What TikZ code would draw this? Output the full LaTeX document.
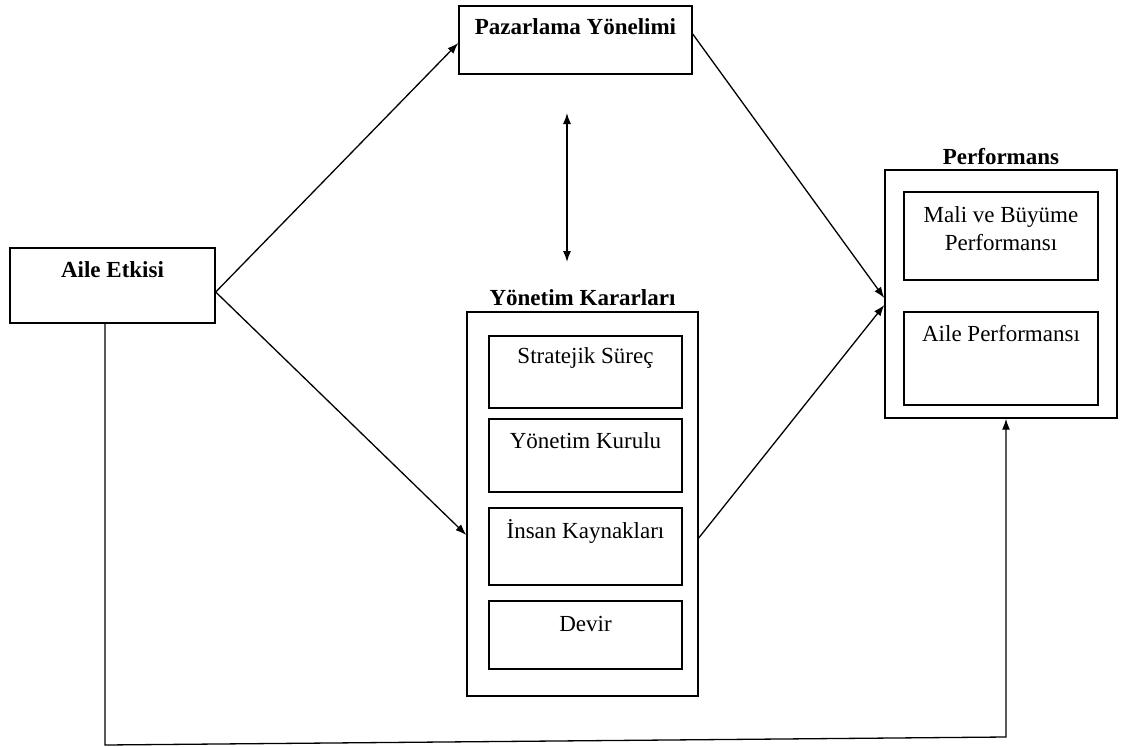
\documentclass[tikz,border=0pt]{standalone}
\usepackage{fontspec}
\setmainfont{Liberation Serif}
\usetikzlibrary{arrows.meta}
\begin{document}
\begin{tikzpicture}[x=1pt,y=-1pt,
  box/.style={draw, line width=1.4pt, rectangle, inner sep=0pt},
  txt/.style={font=\fontsize{23}{28}\selectfont, align=center, inner sep=0pt},
  ttl/.style={font=\fontsize{23}{28}\selectfont\bfseries, align=center, inner sep=0pt},
  conn/.style={line width=1.3pt},
  arr/.style={conn, -{Latex[length=11pt,width=8pt]}},
  darr/.style={conn, {Latex[length=11pt,width=8pt]}-{Latex[length=11pt,width=8pt]}}]
\useasboundingbox (0,0) rectangle (1122,747);

% left source box
\node[box, minimum width=205pt, minimum height=75pt] (aile) at (112.5,285.5) {};
\node[ttl] (ailet) at (112.5,270) {Aile Etkisi};

% top box
\node[box, minimum width=233pt, minimum height=68pt] (paz) at (575.5,40) {};
\node[ttl] (pazt) at (575.5,27) {Pazarlama Yönelimi};

% management decisions group
\node[ttl] (yont) at (582.5,298) {Yönetim Kararları};
\node[box, minimum width=231pt, minimum height=384pt] (yon) at (582.5,504) {};
\node[box, minimum width=193pt, minimum height=72pt] (s1) at (585.5,372) {};
\node[txt] (s1t) at (585.5,358) {Stratejik Süreç};
\node[box, minimum width=193pt, minimum height=73pt] (s2) at (585.5,455.5) {};
\node[txt] (s2t) at (585.5,441) {Yönetim Kurulu};
\node[box, minimum width=193pt, minimum height=77pt] (s3) at (585.5,546.5) {};
\node[txt] (s3t) at (585.5,531) {İnsan Kaynakları};
\node[box, minimum width=193pt, minimum height=68pt] (s4) at (585.5,635) {};
\node[txt] (s4t) at (585.5,624) {Devir};

% performance group
\node[ttl] (perft) at (1001,157) {Performans};
\node[box, minimum width=232pt, minimum height=248pt] (perf) at (1001,294) {};
\node[box, minimum width=194pt, minimum height=88pt] (p1) at (1001,236) {};
\node[txt] (p1t) at (1001,229) {Mali ve Büyüme\\Performansı};
\node[box, minimum width=194pt, minimum height=93pt] (p2) at (1001,358.5) {};
\node[txt] (p2t) at (1001,334) {Aile Performansı};

% connectors (yshift acts on the page: negative moves down)
\draw[arr] ([yshift=-6.5pt]aile.east) -- ([yshift=-3pt]paz.west);
\draw[arr] ([yshift=-6.5pt]aile.east) -- ([yshift=-31pt]yon.west);
\draw[arr] ([yshift=6pt]paz.east) -- ([yshift=-4pt]perf.west);
\draw[arr] ([yshift=-34pt]yon.east) -- ([yshift=-11pt]perf.west);

\coordinate (da1) at (567,113);
\coordinate (da2) at (567,262);
\draw[darr] (da1) -- (da2);

\coordinate (bl) at (105,745);
\coordinate (br) at (1006,737);
\draw[arr] ([xshift=-7.5pt]aile.south) -- (bl) -- (br) -- (br |- perf.south);
\end{tikzpicture}
\end{document}
